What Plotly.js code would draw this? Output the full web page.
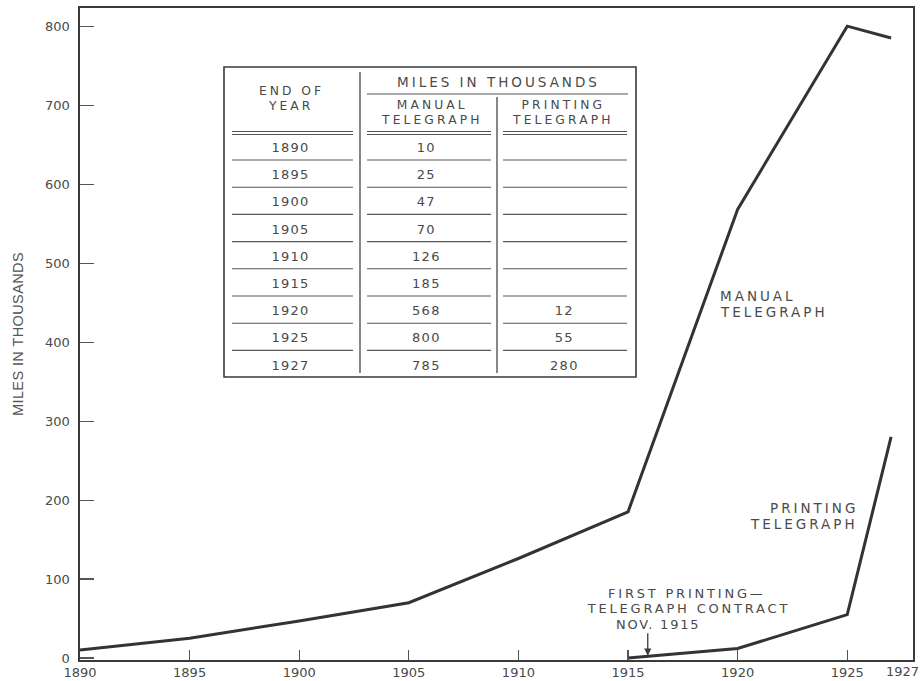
<!DOCTYPE html>
<html>
<head>
<meta charset="utf-8">
<script src="https://cdn.plot.ly/plotly-3.0.1.min.js"></script>
<style>
  html, body { margin: 0; padding: 0; background: #fff; }
  #chart { width: 923px; height: 681px; }
</style>
</head>
<body>
<div id="chart"></div>
<script>
// ---- data ----
const years = [1890, 1895, 1900, 1905, 1910, 1915, 1920, 1925, 1927];
const manualMiles = [10, 25, 47, 70, 126, 185, 568, 800, 785];
const printingYears = [1915, 1920, 1925, 1927];
const printingMiles = [0, 12, 55, 280];
const contractYear = 1915.9;          // Nov. 1915
const xTickVals = [1890, 1895, 1900, 1905, 1910, 1915, 1920, 1925];
const xTickText = ['1890', '1895', '1900', '1905', '1910', '1915', '1920', '1925'];
const lastYearLabel = '1927';
const yTickVals = [0, 100, 200, 300, 400, 500, 600, 700, 800];
const tableYearLabels = ['1890', '1895', '1900', '1905', '1910', '1915', '1920', '1925', '1927'];
const tableManual = ['10', '25', '47', '70', '126', '185', '568', '800', '785'];
const tablePrinting = ['', '', '', '', '', '', '12', '55', '280'];
const tableHeaders = {
  top: 'MILES IN THOUSANDS',
  year: ['END OF', 'YEAR'],
  manual: ['MANUAL', 'TELEGRAPH'],
  printing: ['PRINTING', 'TELEGRAPH']
};

// ---- geometry helpers (pixel -> paper) ----
const L = 80, R = 10, T = 8, B = 21, W = 923, H = 681;
const PW = W - L - R, PH = H - T - B;
const px = x => (x - L) / PW;
const py = y => (H - B - y) / PH;

const textColor = '#4a4a4a';
const lineColor = '#3a3a3a';
const FONT = 'DejaVu Sans, Verdana, sans-serif';

const annotations = [];
const spacing = [];
function addText(text, x, y, size, ls, opts) {
  annotations.push(Object.assign({
    text: text, xref: 'paper', yref: 'paper', x: px(x), y: py(y),
    xanchor: 'center', yanchor: 'middle', showarrow: false,
    font: {family: FONT, size: size, color: textColor}
  }, opts || {}));
  spacing.push(ls);
}

// table header texts
addText(tableHeaders.top, 498, 82, 13.5, 3);
addText(tableHeaders.year[0], 291, 91, 12.3, 3);
addText(tableHeaders.year[1], 291, 106, 12.3, 3);
addText(tableHeaders.manual[0], 432, 105.5, 12.3, 3.1);
addText(tableHeaders.manual[1], 432, 120.5, 12.3, 3.1);
addText(tableHeaders.printing[0], 563, 105.5, 12.3, 3.1);
addText(tableHeaders.printing[1], 563, 120.5, 12.3, 3.1);

// table body
const rowY0 = 147.5, rowStep = 27.2;
tableYearLabels.forEach((t, i) => addText(t, 290, rowY0 + i * rowStep, 13, 1.3));
tableManual.forEach((t, i) => addText(t, 426, rowY0 + i * rowStep, 13, 1.3));
tablePrinting.forEach((t, i) => { if (t) addText(t, 564, rowY0 + i * rowStep, 13, 1.3); });

// series labels
addText('MANUAL', 718, 296, 13.5, 3, {xanchor: 'left', align: 'left'});
addText('TELEGRAPH', 718, 312, 13.5, 3, {xanchor: 'left', align: 'left'});
addText('PRINTING', 860, 508, 13.5, 3, {xanchor: 'right', align: 'right'});
addText('TELEGRAPH', 860, 524, 13.5, 3, {xanchor: 'right', align: 'right'});

// contract note
addText('FIRST PRINTING\u2014', 687, 593, 13, 2.8);
addText('TELEGRAPH CONTRACT', 688, 608.5, 13, 2.8);
addText('NOV. 1915', 658, 624, 13, 1.8);
annotations.push({
  x: contractYear, y: 3, xref: 'x', yref: 'y', text: '', showarrow: true,
  ax: 0, ay: -24, arrowhead: 2, arrowsize: 1.1, arrowwidth: 1.3, arrowcolor: lineColor
});
spacing.push(0);

// last year label at the right edge of the axis
addText(lastYearLabel, 921, 672, 13, 0, {xanchor: 'right'});

// ---- table lines as shapes ----
const shapes = [];
function seg(x0, y0, x1, y1, w) {
  shapes.push({type: 'line', xref: 'paper', yref: 'paper',
    x0: px(x0), y0: py(y0), x1: px(x1), y1: py(y1),
    line: {color: '#555', width: w || 1.1}});
}
// outer box
shapes.push({type: 'rect', xref: 'paper', yref: 'paper',
  x0: px(224), y0: py(377), x1: px(636), y1: py(67),
  line: {color: lineColor, width: 1.6}, fillcolor: 'rgba(0,0,0,0)'});
// vertical dividers
seg(360, 72, 360, 373, 1.4);
seg(497, 97, 497, 373, 1.4);
// line under top header
seg(367, 94, 628, 94, 1.1);
const cols = [[232, 353], [367, 491], [503, 627]];
// double lines
cols.forEach(c => { seg(c[0], 131.5, c[1], 131.5, 1.1); seg(c[0], 134.5, c[1], 134.5, 1.1); });
// row separators
for (let i = 0; i < tableYearLabels.length - 1; i++) {
  const y = rowY0 + i * rowStep + 12.5;
  cols.forEach(c => seg(c[0], y, c[1], y, 1.1));
}

const traces = [
  {x: years, y: manualMiles, type: 'scatter', mode: 'lines', name: 'Manual telegraph',
   line: {color: '#333', width: 3}, hoverinfo: 'x+y'},
  {x: printingYears, y: printingMiles, type: 'scatter', mode: 'lines', name: 'Printing telegraph',
   line: {color: '#333', width: 3}, hoverinfo: 'x+y'}
];

const layout = {
  width: W, height: H,
  margin: {l: L, r: R, t: T, b: B},
  paper_bgcolor: '#fff', plot_bgcolor: '#fff',
  showlegend: false,
  font: {family: FONT, color: textColor},
  xaxis: {
    range: [1890, 1928], tickvals: xTickVals, ticktext: xTickText,
    ticks: 'inside', ticklen: 10, tickwidth: 1.2, tickcolor: '#555',
    showline: true, mirror: true, linecolor: lineColor, linewidth: 1.6,
    showgrid: false, zeroline: false,
    tickfont: {family: FONT, size: 13, color: textColor}
  },
  yaxis: {
    range: [-2.5, 823], tickvals: yTickVals,
    ticks: 'inside', ticklen: 14, tickwidth: 1.1, tickcolor: '#555',
    showline: true, mirror: true, linecolor: lineColor, linewidth: 1.6,
    showgrid: false, zeroline: false, ticklabelstandoff: 6,
    tickfont: {family: FONT, size: 13, color: textColor},
    title: {text: 'MILES IN THOUSANDS', standoff: 18,
      font: {family: 'Liberation Sans, Arial, sans-serif', size: 14.5, color: '#555'}}
  },
  annotations: annotations,
  shapes: shapes
};

Plotly.newPlot('chart', traces, layout, {displayModeBar: false, staticPlot: true}).then(() => {
  document.querySelectorAll('.annotation').forEach(g => {
    const idx = +g.getAttribute('data-index');
    const ls = spacing[idx];
    if (ls) g.querySelectorAll('text').forEach(t => t.style.letterSpacing = ls + 'px');
  });
  const yt = document.querySelector('.ytitle');
  if (yt) yt.style.letterSpacing = '0.4px';
});
</script>
</body>
</html>
